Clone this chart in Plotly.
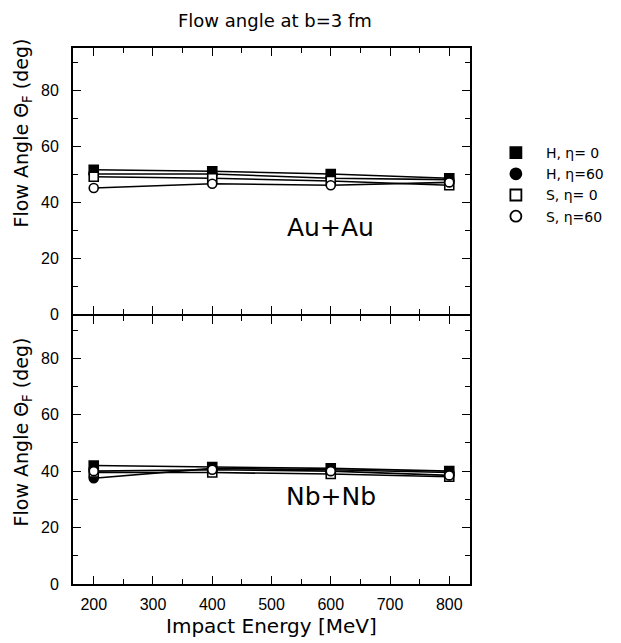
import plotly.graph_objects as go
from plotly.subplots import make_subplots

energy = [200, 400, 600, 800]
series_names = ["H, η= 0", "H, η=60", "S, η= 0", "S, η=60"]

# Au+Au flow angles (deg)
au_H0 = [51.5, 51.0, 50.0, 48.5]
au_H60 = [50.0, 50.0, 48.5, 48.0]
au_S0 = [49.0, 48.5, 47.5, 46.0]
au_S60 = [45.0, 46.5, 46.0, 47.0]

# Nb+Nb flow angles (deg)
nb_H0 = [42.0, 41.5, 41.0, 40.0]
nb_H60 = [37.5, 41.0, 40.5, 39.5]
nb_S0 = [39.5, 39.5, 39.0, 38.0]
nb_S60 = [40.0, 40.5, 40.0, 38.5]

x_ticks = [200, 300, 400, 500, 600, 700, 800]
y_ticks = [0, 20, 40, 60, 80]

symbols = ["square", "circle", "square", "circle"]
fills = ["black", "black", "white", "white"]

FONT = "DejaVu Sans, sans-serif"
TFONT = "Liberation Sans, Arial, sans-serif"

# the page body has an 8px default margin, so the figure is drawn 8px in
OFF = 8
W, H = 621 - OFF, 643 - OFF
L, T = 73 - OFF, 48 - OFF
R = W - (473 - OFF)
B = H - (584 - OFF)
pw, ph = W - L - R, H - T - B

fig = make_subplots(rows=2, cols=1, shared_xaxes=True, vertical_spacing=0)

panels = [
    (1, [au_H0, au_H60, au_S0, au_S60]),
    (2, [nb_H0, nb_H60, nb_S0, nb_S60]),
]
for row, data in panels:
    for name, vals, sym, fc in zip(series_names, data, symbols, fills):
        fig.add_trace(go.Scatter(
            x=energy, y=vals, mode="lines+markers", name=name,
            showlegend=False,
            line=dict(color="black", width=1.6),
            marker=dict(symbol=sym, size=9, color=fc,
                        line=dict(color="black", width=1.6)),
        ), row=row, col=1)

# legend-only entries (markers only)
for name, sym, fc in zip(series_names, symbols, fills):
    fig.add_trace(go.Scatter(
        x=[None], y=[None], mode="markers", name=name,
        marker=dict(symbol=sym, size=11, color=fc,
                    line=dict(color="black", width=1.8)),
    ), row=1, col=1)

axis_common = dict(
    showline=True, linecolor="black", linewidth=2, mirror="allticks",
    ticks="inside", ticklen=8, tickwidth=1.3, tickcolor="black",
    showgrid=False, zeroline=False,
    tickfont=dict(family=TFONT, size=16, color="black"),
)

for r in (1, 2):
    fig.update_xaxes(
        range=[165, 835], tickvals=x_ticks,
        minor=dict(dtick=50, tick0=200, ticks="inside", ticklen=5,
                   tickwidth=1.3, tickcolor="black"),
        showticklabels=(r == 2), ticklabelstandoff=5,
        row=r, col=1, **axis_common)
    fig.update_yaxes(
        range=[0, 95], tickvals=y_ticks,
        minor=dict(dtick=10, tick0=0, ticks="inside", ticklen=5,
                   tickwidth=1.3, tickcolor="black"),
        ticklabelstandoff=9,
        row=r, col=1, **axis_common)

# make the shared boundary line a single thin line
fig.update_yaxes(domain=[0.5 + 2.0 / ph, 1.0], row=1, col=1)
fig.update_yaxes(domain=[0.0, 0.5], row=2, col=1)


def px_x(px):
    # px: window pixel -> paper fraction
    return (px - OFF - L) / pw


def px_y(py):
    return 1 - (py - OFF - T) / ph


fig.add_annotation(text="Impact Energy [MeV]", x=px_x(273), y=px_y(626),
                   xref="paper", yref="paper", xanchor="center", yanchor="middle",
                   showarrow=False, font=dict(family=FONT, size=20, color="black"))

ylab = "Flow Angle Θ<sub>F</sub> (deg)"
for yc in (133, 432):
    fig.add_annotation(text=ylab, x=px_x(22), y=px_y(yc),
                       xref="paper", yref="paper", xanchor="center", yanchor="middle",
                       showarrow=False, textangle=-90,
                       font=dict(family=FONT, size=19, color="black"))
fig.add_annotation(text="Flow angle at b=3 fm", x=px_x(277), y=px_y(21),
                   xref="paper", yref="paper", xanchor="center", yanchor="middle",
                   showarrow=False, font=dict(family=FONT, size=18, color="black"))
fig.add_annotation(text="Au+Au", x=600, y=31, xref="x", yref="y", showarrow=False,
                   font=dict(family=FONT, size=25, color="black"))
fig.add_annotation(text="Nb+Nb", x=600, y=31, xref="x2", yref="y2", showarrow=False,
                   font=dict(family=FONT, size=25, color="black"))

fig.update_layout(
    width=W, height=H,
    margin=dict(l=L, r=R, t=T, b=B),
    plot_bgcolor="white", paper_bgcolor="white",
    font=dict(family=FONT, color="black"),
    legend=dict(x=px_x(489), y=px_y(137), xanchor="left", yanchor="top",
                itemwidth=50, font=dict(family=FONT, size=14, color="black"),
                bgcolor="rgba(0,0,0,0)", borderwidth=0, tracegroupgap=0),
)

fig.write_html("out.html")
